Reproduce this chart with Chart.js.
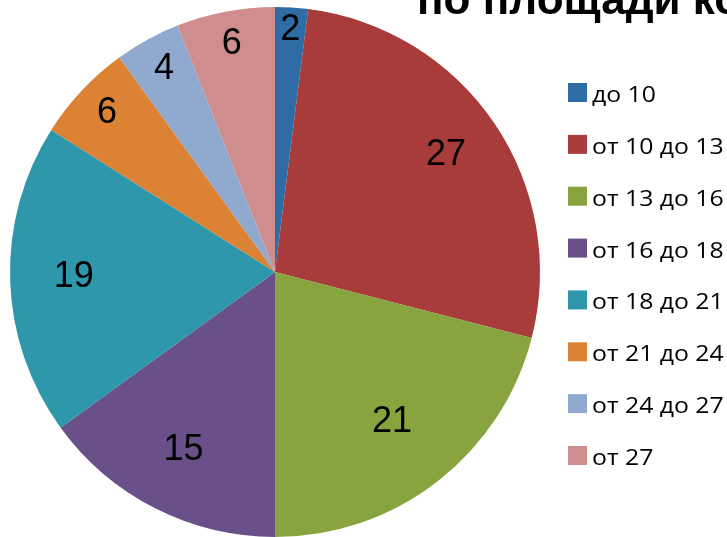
<!DOCTYPE html>
<html>
<head>
<meta charset="utf-8">
<script src="https://cdn.jsdelivr.net/npm/chart.js@4/dist/chart.umd.min.js"></script>
<style>
  html, body { margin: 0; padding: 0; background: #ffffff; overflow: hidden; width: 727px; height: 537px; }
  #wrap { position: relative; width: 727px; height: 537px; overflow: hidden; }
  #c { position: absolute; left: 0; top: 0; }
  #title { position: absolute; left: 417px; top: -23px; font-family: "Liberation Sans Narrow", "Liberation Sans", sans-serif; font-weight: bold; font-size: 44px; line-height: 44px; white-space: nowrap; color: #000; }
</style>
</head>
<body>
<div id="wrap">
  <canvas id="c" width="727" height="537"></canvas>
  <div id="title">по площади комнат</div>
</div>
<script>
const categories = ["до 10", "от 10 до 13", "от 13 до 16", "от 16 до 18", "от 18 до 21", "от 21 до 24", "от 24 до 27", "от 27"];
const values = [2, 27, 21, 15, 19, 6, 4, 6];
const colors = ["#2d6ca5", "#a73c3a", "#87a43f", "#6a5089", "#2f97ab", "#dc8234", "#8fa9cf", "#cf8d8d"];

const sliceLabels = {
  id: 'sliceLabels',
  afterDatasetsDraw(chart) {
    const ctx = chart.ctx;
    const meta = chart.getDatasetMeta(0);
    ctx.save();
    ctx.font = '36px "Liberation Sans", Arial, sans-serif';
    ctx.fillStyle = '#000000';
    ctx.textAlign = 'center';
    ctx.textBaseline = 'middle';
    meta.data.forEach((arc, i) => {
      const v = chart.data.datasets[0].data[i];
      const p = arc.getProps(['x', 'y', 'startAngle', 'endAngle', 'outerRadius'], true);
      const mid = (p.startAngle + p.endAngle) / 2;
      let f;
      if (v >= 25) f = 0.78;
      else if (v >= 20) f = 0.72;
      else if (v >= 10) f = 0.76;
      else if (v >= 3) f = 0.87;
      else f = 0.91;
      const r = p.outerRadius * f;
      ctx.fillText(String(v), p.x + Math.cos(mid) * r, p.y + Math.sin(mid) * r - 1);
    });
    ctx.restore();
  }
};

const sideLegend = {
  id: 'sideLegend',
  afterDraw(chart) {
    const ctx = chart.ctx;
    const labels = chart.data.labels;
    const bg = chart.data.datasets[0].backgroundColor;
    const x0 = 568, y0 = 83, step = 51.86, box = 19;
    ctx.save();
    ctx.font = '21px "Open Sans", "Noto Sans", sans-serif';
    ctx.textAlign = 'left';
    ctx.textBaseline = 'alphabetic';
    labels.forEach((lab, i) => {
      const y = y0 + i * step;
      ctx.fillStyle = bg[i];
      ctx.fillRect(x0, y, box, box);
      ctx.fillStyle = '#000000';
      ctx.save();
      ctx.translate(x0 + box + 5, y + 19);
      ctx.scale(1.18, 1);
      ctx.fillText(lab, 0, 0);
      ctx.restore();
    });
    ctx.restore();
  }
};

new Chart(document.getElementById('c'), {
  type: 'pie',
  data: {
    labels: categories,
    datasets: [{
      data: values,
      backgroundColor: colors,
      borderWidth: 0
    }]
  },
  options: {
    responsive: false,
    animation: false,
    layout: { padding: { left: 10, top: 7, right: 187, bottom: 0 } },
    plugins: {
      legend: { display: false },
      tooltip: { enabled: false },
      title: { display: false }
    }
  },
  plugins: [sliceLabels, sideLegend]
});
</script>
</body>
</html>
